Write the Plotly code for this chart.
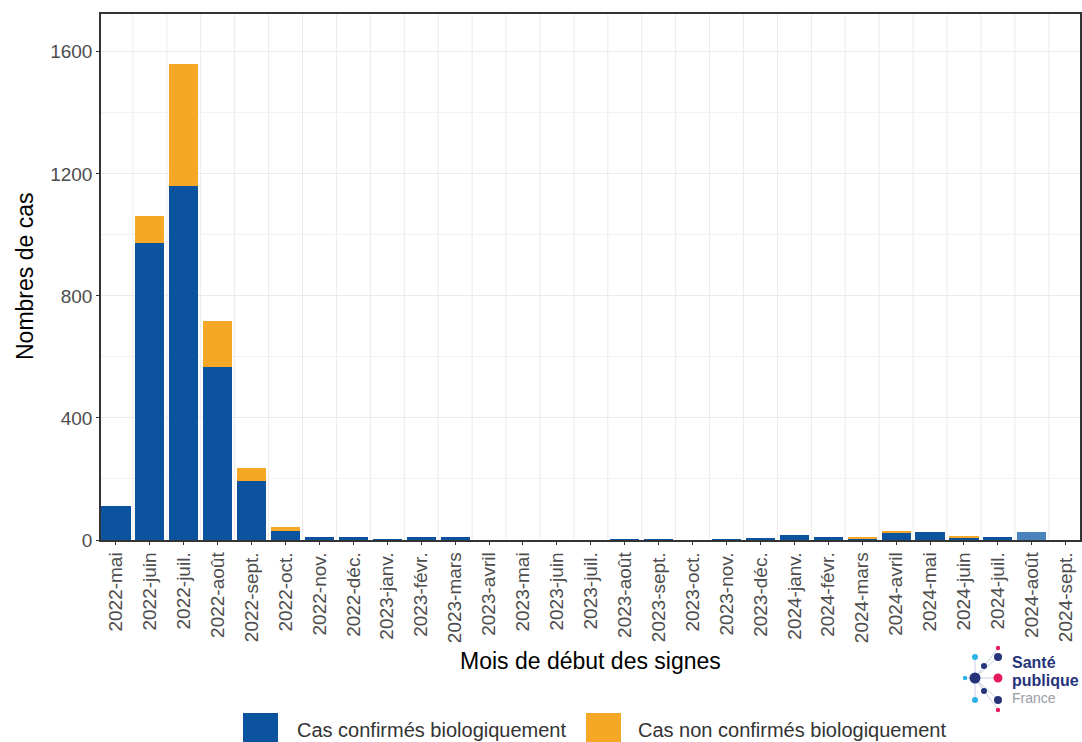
import plotly.graph_objects as go

# ---- data ----
months = ["2022-mai", "2022-juin", "2022-juil.", "2022-août", "2022-sept.", "2022-oct.",
          "2022-nov.", "2022-déc.", "2023-janv.", "2023-févr.", "2023-mars", "2023-avril",
          "2023-mai", "2023-juin", "2023-juil.", "2023-août", "2023-sept.", "2023-oct.",
          "2023-nov.", "2023-déc.", "2024-janv.", "2024-févr.", "2024-mars", "2024-avril",
          "2024-mai", "2024-juin", "2024-juil.", "2024-août", "2024-sept."]
confirmed = [110, 975, 1160, 567, 193, 31, 10, 9, 3, 9, 9, 0, 0, 0, 0, 2, 2, 0, 2, 8,
             15, 10, 5, 24, 26, 8, 9, 26, 0]
not_confirmed = [0, 87, 401, 151, 43, 11, 0, 0, 0, 0, 0, 0, 0, 0, 0, 0, 0, 0, 0, 0,
                 0, 0, 5, 5, 0, 5, 0, 0, 0]
incomplete_month = "2024-août"
series_names = ["Cas confirmés biologiquement", "Cas non confirmés biologiquement"]
y_ticks = [0, 400, 800, 1200, 1600]

BLUE = "#0b539e"
LIGHT_BLUE = "#4a82bb"
ORANGE = "#f5a726"
FONT = "Liberation Sans"

# plot-area geometry in pixels (for decoration placement)
L, R, T, B = 101, 1080, 14, 540
W, H = 1082, 742


def px(x):
    return (x - L) / (R - L)


def py(y):
    return (B - y) / (B - T)


blue_colors = [LIGHT_BLUE if m == incomplete_month else BLUE for m in months]

fig = go.Figure()
fig.add_trace(go.Bar(x=months, y=confirmed, name=series_names[0],
                     marker=dict(color=blue_colors, line=dict(width=0)), width=0.86))
fig.add_trace(go.Bar(x=months, y=not_confirmed, name=series_names[1],
                     marker=dict(color=ORANGE, line=dict(width=0)), width=0.86))

shapes = []
# vertical grid lines between months
for i in range(len(months) - 1):
    shapes.append(dict(type="line", xref="x", yref="paper", x0=i + 0.5, x1=i + 0.5,
                       y0=0, y1=1, line=dict(color="#ebebeb", width=1), layer="below"))

annotations = []
# axis titles
annotations.append(dict(text="Mois de début des signes", xref="paper", yref="paper",
                        x=0.5, y=py(661), xanchor="center", yanchor="middle",
                        showarrow=False, font=dict(family=FONT, size=23, color="#000000")))
annotations.append(dict(text="Nombres de cas", xref="paper", yref="paper",
                        x=px(25), y=0.5, xanchor="center", yanchor="middle", textangle=-90,
                        showarrow=False, font=dict(family=FONT, size=23, color="#000000")))

# manual legend (large key squares)
legend_items = [(243, BLUE, series_names[0], 295), (586, ORANGE, series_names[1], 636)]
for x0, col, label, tx in legend_items:
    shapes.append(dict(type="rect", xref="paper", yref="paper", x0=px(x0), x1=px(x0 + 35),
                       y0=py(748), y1=py(713), fillcolor=col, line=dict(width=0)))
    annotations.append(dict(text=label, xref="paper", yref="paper", x=px(tx), y=py(730),
                            xanchor="left", yanchor="middle", showarrow=False,
                            font=dict(family=FONT, size=20, color="#333333")))

# Santé publique France logo
NAVY = "#26337a"
CYAN = "#2bb3e6"
PINK = "#e5195e"
center = (975, 678)
dots = [(998, 648, 2.2, PINK), (998, 657, 4, NAVY), (975, 657, 3, CYAN), (984, 666, 3, NAVY),
        (965, 678, 2.2, CYAN), (998, 678, 4.5, PINK), (984, 691, 3, NAVY),
        (975, 700, 3, CYAN), (998, 700, 4, NAVY), (998, 710, 2.2, PINK)]
for dx, dy, r, c in dots:
    shapes.append(dict(type="line", xref="paper", yref="paper", x0=px(center[0]), y0=py(center[1]),
                       x1=px(dx), y1=py(dy), line=dict(color="#c9d0e4", width=1)))
for dx, dy, r, c in dots + [(center[0], center[1], 5.5, NAVY)]:
    shapes.append(dict(type="circle", xref="paper", yref="paper", x0=px(dx - r), x1=px(dx + r),
                       y0=py(dy + r), y1=py(dy - r), fillcolor=c, line=dict(width=0)))
for txt, yy, bold, col, sz in [("Santé", 662, True, NAVY, 16), ("publique", 680, True, NAVY, 16),
                               ("France", 698, False, "#9a9ca8", 14)]:
    annotations.append(dict(text=f"<b>{txt}</b>" if bold else txt, xref="paper", yref="paper",
                            x=px(1010), y=py(yy), xanchor="left", yanchor="middle",
                            showarrow=False, font=dict(family=FONT, size=sz, color=col)))

fig.update_layout(
    barmode="stack",
    width=W, height=H,
    margin=dict(l=L, r=W - R, t=T, b=H - B, autoexpand=False),
    plot_bgcolor="white", paper_bgcolor="white",
    showlegend=False,
    font=dict(family=FONT, color="#4d4d4d"),
    shapes=shapes, annotations=annotations,
    xaxis=dict(type="category", range=[-0.44, len(months) - 0.58], tickangle=-90,
               showgrid=False, showline=True, linecolor="#333333", linewidth=1.5, mirror=True,
               ticks="outside", ticklen=3, tickcolor="#333333",
               tickfont=dict(family=FONT, size=19, color="#4d4d4d")),
    yaxis=dict(range=[0, 1724], tickvals=y_ticks, showgrid=True, gridcolor="#ebebeb",
               gridwidth=1, zeroline=False,
               minor=dict(dtick=200, tick0=0, showgrid=True, gridcolor="#f2f2f2", gridwidth=1),
               showline=True, linecolor="#333333", linewidth=1.5, mirror=True,
               ticks="outside", ticklen=3, tickcolor="#333333",
               tickfont=dict(family=FONT, size=19, color="#4d4d4d")),
)

fig.write_html("out.html", config={"displayModeBar": False},
               post_script="document.body.style.margin='0';document.body.style.overflow='hidden';")
